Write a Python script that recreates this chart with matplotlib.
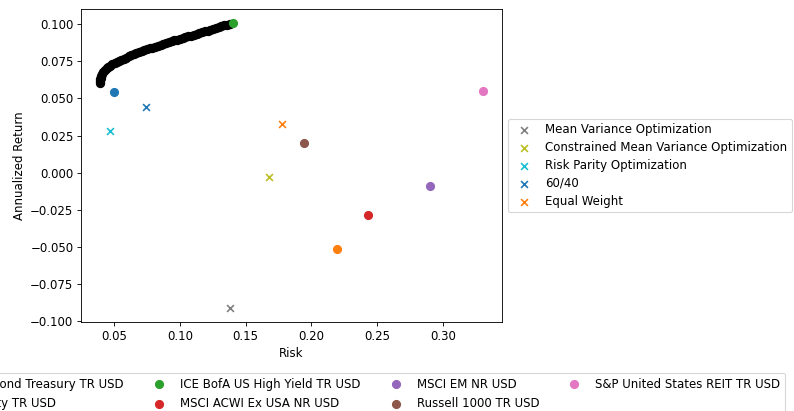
import matplotlib
matplotlib.use("Agg")
import matplotlib.pyplot as plt

# Efficient frontier (risk, return)
frontier_risk = [0.0395, 0.0393, 0.0394, 0.0397, 0.0402, 0.0409, 0.0418, 0.0429, 0.0442, 0.0456,
                 0.0471, 0.0487, 0.0503, 0.0520, 0.0537, 0.0555, 0.0573, 0.0591, 0.0610, 0.0629,
                 0.0648, 0.0668, 0.0688, 0.0708, 0.0728, 0.0748, 0.0769, 0.0790, 0.0811, 0.0832,
                 0.0853, 0.0874, 0.0895, 0.0916, 0.0937, 0.0958, 0.0979, 0.1000, 0.1021, 0.1042,
                 0.1063, 0.1085, 0.1106, 0.1127, 0.1148, 0.1169, 0.1190, 0.1211, 0.1232, 0.1252,
                 0.1273, 0.1294, 0.1315, 0.1336, 0.1357, 0.1379]
frontier_return = [0.0603, 0.0615, 0.0628, 0.0641, 0.0654, 0.0667, 0.0680, 0.0692, 0.0703, 0.0713,
                   0.0722, 0.0731, 0.0739, 0.0747, 0.0754, 0.0762, 0.0769, 0.0776, 0.0783, 0.0790,
                   0.0797, 0.0804, 0.0811, 0.0817, 0.0824, 0.0830, 0.0837, 0.0843, 0.0850, 0.0856,
                   0.0862, 0.0868, 0.0874, 0.0880, 0.0885, 0.0891, 0.0897, 0.0902, 0.0908, 0.0913,
                   0.0919, 0.0924, 0.0930, 0.0935, 0.0941, 0.0946, 0.0952, 0.0958, 0.0963, 0.0969,
                   0.0975, 0.0980, 0.0986, 0.0992, 0.0997, 0.1003]

# Individual assets
asset_names = ["Bloomberg US Govt Bond Treasury TR USD",
               "Bloomberg Commodity TR USD",
               "ICE BofA US High Yield TR USD",
               "MSCI ACWI Ex USA NR USD",
               "MSCI EM NR USD",
               "Russell 1000 TR USD",
               "S&P United States REIT TR USD"]
asset_risk = [0.0495, 0.2195, 0.1400, 0.2427, 0.2902, 0.1945, 0.3303]
asset_return = [0.0547, -0.0517, 0.1007, -0.0288, -0.0088, 0.0199, 0.0553]
asset_colors = ["C0", "C1", "C2", "C3", "C4", "C5", "C6"]

# Portfolios
port_names = ["Mean Variance Optimization", "Constrained Mean Variance Optimization",
              "Risk Parity Optimization", "60/40", "Equal Weight"]
port_risk = [0.1384, 0.1674, 0.0470, 0.0740, 0.1778]
port_return = [-0.0910, -0.0026, 0.0284, 0.0441, 0.0330]
port_colors = ["C7", "C8", "C9", "C0", "C1"]

plt.rcParams["font.size"] = 10.8

DPI = 78
fig = plt.figure(figsize=(794 / DPI, 411 / DPI), dpi=DPI)
ax = fig.add_axes([81 / 794, 1 - 322 / 411, (502 - 81) / 794, (322 - 9) / 411])

ax.scatter(frontier_risk, frontier_return, color="black", s=58, zorder=2)

asset_handles = []
for name, r, ret, c in zip(asset_names, asset_risk, asset_return, asset_colors):
    h = ax.scatter([r], [ret], color=c, s=55, label=name, zorder=3)
    asset_handles.append(h)

port_handles = []
for name, r, ret, c in zip(port_names, port_risk, port_return, port_colors):
    h = ax.scatter([r], [ret], color=c, marker="x", s=40, label=name, zorder=3)
    port_handles.append(h)

ax.set_xlabel("Risk")
ax.set_ylabel("Annualized Return")

leg1 = ax.legend(handles=port_handles, loc="center left", bbox_to_anchor=(1.0, 0.5),
                 labelspacing=0.41)
ax.add_artist(leg1)
leg2 = ax.legend(handles=asset_handles, loc="upper right", ncol=4,
                 bbox_to_anchor=(791 / 794, 1 - 367 / 411),
                 bbox_transform=fig.transFigure, labelspacing=0.53)

fig.savefig("out.png", dpi=DPI)
